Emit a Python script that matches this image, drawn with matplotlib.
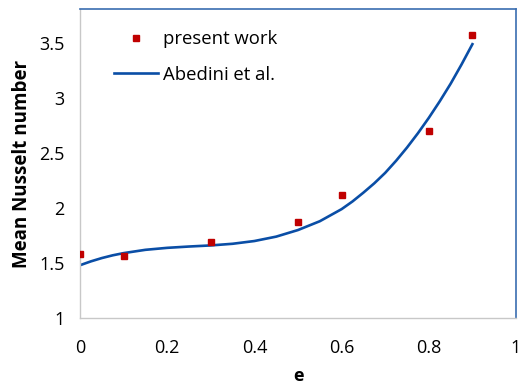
import matplotlib
matplotlib.use("Agg")
import matplotlib.pyplot as plt

# data
e_points = [0.0, 0.1, 0.3, 0.5, 0.6, 0.8, 0.9]
nu_points = [1.58, 1.565, 1.69, 1.87, 2.12, 2.70, 3.575]

e_curve = [0.0, 0.025, 0.05, 0.075, 0.1, 0.15, 0.2, 0.25, 0.3, 0.35, 0.4, 0.45, 0.5,
           0.55, 0.6, 0.625, 0.65, 0.675, 0.7, 0.725, 0.75, 0.775, 0.8,
           0.825, 0.85, 0.875, 0.9]
nu_curve = [1.48, 1.515, 1.545, 1.57, 1.59, 1.62, 1.638, 1.65, 1.66, 1.675, 1.70, 1.74,
            1.80, 1.88, 1.99, 2.06, 2.14, 2.225, 2.32, 2.43, 2.55, 2.68,
            2.82, 2.97, 3.13, 3.305, 3.49]

x_ticks = [0, 0.2, 0.4, 0.6, 0.8, 1]
x_labels = ["0", "0.2", "0.4", "0.6", "0.8", "1"]
y_ticks = [1, 1.5, 2, 2.5, 3, 3.5]
y_labels = ["1", "1.5", "2", "2.5", "3", "3.5"]

plt.rcParams['font.family'] = ['Open Sans', 'DejaVu Sans']

fig = plt.figure(figsize=(5.21, 3.85), dpi=100)
ax = fig.add_axes([80/521, 1-318/385, 436/521, 309/385])

ax.plot(e_curve, nu_curve, color="#0a4ea6", lw=1.9, label="Abedini et al.", zorder=2)
ax.plot(e_points, nu_points, ls="none", marker="s", ms=4.5, color="#c00000",
        label="present work", zorder=3)

ax.set_xlim(0, 1)
ax.set_ylim(1, 3.81)
ax.set_xticks(x_ticks)
ax.set_xticklabels(x_labels, fontsize=13)
ax.set_yticks(y_ticks)
ax.set_yticklabels(y_labels, fontsize=13)
ax.tick_params(length=0, pad=11)
ax.tick_params(axis='x', pad=15)

for s in ["left", "bottom"]:
    ax.spines[s].set_color("#c8c8c8")
    ax.spines[s].set_linewidth(1)
for s in ["top", "right"]:
    ax.spines[s].set_color("#3a6db0")
    ax.spines[s].set_linewidth(1.2)

ax.set_xlabel("e", fontsize=13, fontweight="bold", labelpad=7)
ax.set_ylabel("Mean Nusselt number", fontsize=13.5, fontweight="bold", labelpad=5)

handles, labels = ax.get_legend_handles_labels()
leg = ax.legend(handles[::-1], labels[::-1], loc="upper left",
                bbox_to_anchor=(0.04, 0.985), frameon=False, fontsize=13.3,
                handlelength=2.4, handletextpad=0.25, labelspacing=0.95)

fig.savefig("out.png", dpi=100)
